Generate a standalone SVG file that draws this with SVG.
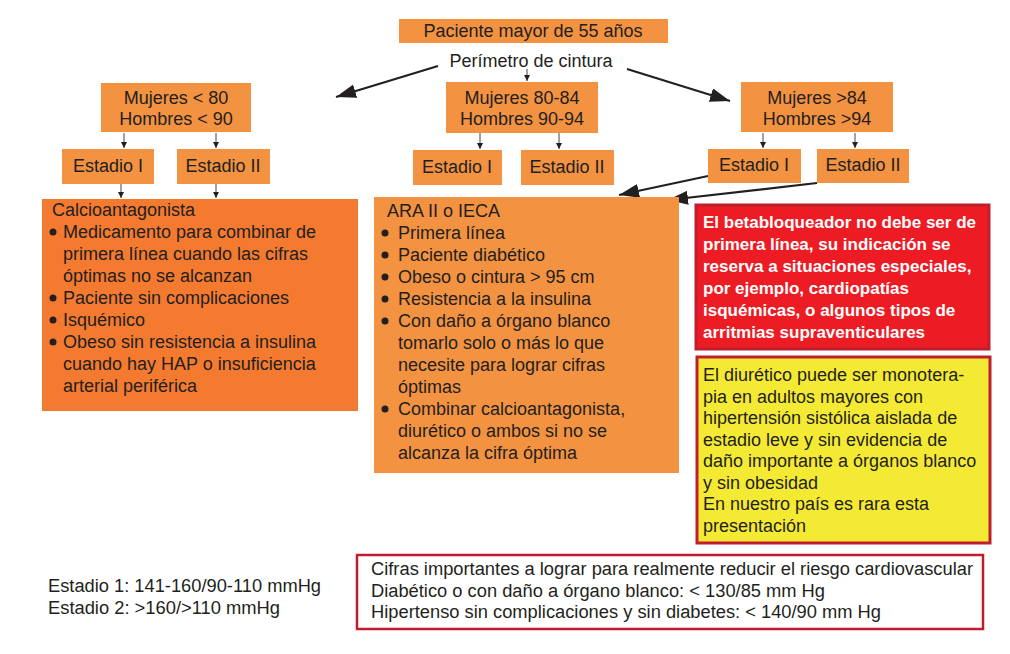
<svg xmlns="http://www.w3.org/2000/svg" width="1010" height="654" viewBox="0 0 1010 654">
<style>
text{font-family:"Liberation Sans",Arial,sans-serif;font-size:18px;fill:#231F20}
.c{text-anchor:middle}
.lo{fill:#F39241}
.do{fill:#F47A30}
.w{fill:#fff;font-weight:bold;font-size:17px}
.thin{stroke:#444;stroke-width:1;fill:none}
.thick{stroke:#231F20;stroke-width:2.2;fill:none}
.b{fill:#231F20}
</style>
<defs>
<marker id="sa" viewBox="0 0 10 10" refX="10" refY="5" markerWidth="6" markerHeight="6" markerUnits="userSpaceOnUse" orient="auto"><path d="M0,0 L10,5 L0,10 z" fill="#231F20"/></marker>
<marker id="ba" viewBox="0 0 10 10" refX="10" refY="5" markerWidth="20" markerHeight="14" markerUnits="userSpaceOnUse" orient="auto" preserveAspectRatio="none"><path d="M0,0 L10,5 L0,10 z" fill="#231F20"/></marker>
</defs>
<rect width="1010" height="654" fill="#fff"/>

<g id="connectors">
<line class="thin" x1="527" y1="69" x2="527" y2="81" marker-end="url(#sa)"/>
<line class="thick" x1="438" y1="66" x2="336" y2="97" marker-end="url(#ba)"/>
<line class="thick" x1="627" y1="69" x2="730" y2="101" marker-end="url(#ba)"/>
<line class="thin" x1="124" y1="133" x2="124" y2="148" marker-end="url(#sa)"/>
<line class="thin" x1="216" y1="133" x2="216" y2="148" marker-end="url(#sa)"/>
<line class="thin" x1="480" y1="133" x2="480" y2="149" marker-end="url(#sa)"/>
<line class="thin" x1="559" y1="133" x2="559" y2="149" marker-end="url(#sa)"/>
<line class="thin" x1="763" y1="133" x2="763" y2="148" marker-end="url(#sa)"/>
<line class="thin" x1="855" y1="133" x2="855" y2="148" marker-end="url(#sa)"/>
<line class="thin" x1="121" y1="184" x2="121" y2="198" marker-end="url(#sa)"/>
<line class="thin" x1="216" y1="184" x2="216" y2="198" marker-end="url(#sa)"/>
<line class="thick" x1="708" y1="176" x2="619" y2="195" marker-end="url(#ba)"/>
<line class="thick" x1="817" y1="183" x2="668" y2="200" marker-end="url(#ba)"/>
</g>

<g id="paciente">
<rect class="lo" x="399" y="19" width="269" height="24"/>
<text class="c" x="533" y="37">Paciente mayor de 55 años</text>
</g>
<g id="perimetro">
<text class="c" x="531" y="67">Perímetro de cintura</text>
</g>

<g id="grupo-bajo">
<rect class="lo" x="101" y="83" width="150" height="49"/>
<text class="c" x="176" y="104">Mujeres &lt; 80</text>
<text class="c" x="176" y="125">Hombres &lt; 90</text>
</g>
<g id="grupo-medio">
<rect class="lo" x="446" y="82" width="152" height="51"/>
<text class="c" x="522" y="104">Mujeres 80-84</text>
<text class="c" x="522" y="125">Hombres 90-94</text>
</g>
<g id="grupo-alto">
<rect class="lo" x="741" y="82" width="152" height="50"/>
<text class="c" x="817" y="104">Mujeres &gt;84</text>
<text class="c" x="817" y="125">Hombres &gt;94</text>
</g>

<g id="estadio-1-bajo"><rect class="lo" x="62" y="149" width="92" height="35"/><text class="c" x="108" y="172">Estadio I</text></g>
<g id="estadio-2-bajo"><rect class="lo" x="177" y="149" width="93" height="35"/><text class="c" x="223" y="172">Estadio II</text></g>
<g id="estadio-1-medio"><rect class="lo" x="413" y="150" width="89" height="35"/><text class="c" x="457" y="173">Estadio I</text></g>
<g id="estadio-2-medio"><rect class="lo" x="521" y="150" width="93" height="35"/><text class="c" x="567" y="173">Estadio II</text></g>
<g id="estadio-1-alto"><rect class="lo" x="708" y="149" width="93" height="34"/><text class="c" x="754" y="171">Estadio I</text></g>
<g id="estadio-2-alto"><rect class="lo" x="817" y="149" width="92" height="34"/><text class="c" x="863" y="171">Estadio II</text></g>

<g id="calcioantagonista">
<rect class="do" x="42" y="199" width="316" height="212"/>
<text x="52" y="216">Calcioantagonista</text>
<circle class="b" cx="53" cy="232" r="3.5"/>
<text x="63" y="238">Medicamento para combinar de</text>
<text x="63" y="260">primera línea cuando las cifras</text>
<text x="63" y="282">óptimas no se alcanzan</text>
<circle class="b" cx="53" cy="298" r="3.5"/>
<text x="63" y="304">Paciente sin complicaciones</text>
<circle class="b" cx="53" cy="320" r="3.5"/>
<text x="63" y="326">Isquémico</text>
<circle class="b" cx="53" cy="342" r="3.5"/>
<text x="63" y="348">Obeso sin resistencia a insulina</text>
<text x="63" y="370">cuando hay HAP o insuficiencia</text>
<text x="63" y="392">arterial periférica</text>
</g>

<g id="ara-ieca">
<rect class="lo" x="374" y="197" width="305" height="276"/>
<text x="387" y="217">ARA II o IECA</text>
<circle class="b" cx="385" cy="233" r="3.5"/>
<text x="398" y="239">Primera línea</text>
<circle class="b" cx="385" cy="255" r="3.5"/>
<text x="398" y="261">Paciente diabético</text>
<circle class="b" cx="385" cy="277" r="3.5"/>
<text x="398" y="283">Obeso o cintura &gt; 95 cm</text>
<circle class="b" cx="385" cy="299" r="3.5"/>
<text x="398" y="305">Resistencia a la insulina</text>
<circle class="b" cx="385" cy="321" r="3.5"/>
<text x="398" y="327">Con daño a órgano blanco</text>
<text x="398" y="349">tomarlo solo o más lo que</text>
<text x="398" y="371">necesite para lograr cifras</text>
<text x="398" y="393">óptimas</text>
<circle class="b" cx="385" cy="409" r="3.5"/>
<text x="398" y="415">Combinar calcioantagonista,</text>
<text x="398" y="437">diurético o ambos si no se</text>
<text x="398" y="459">alcanza la cifra óptima</text>
</g>

<g id="betabloqueador">
<rect x="696" y="205" width="293" height="144" fill="#ED1C24" stroke="#BE1E2D" stroke-width="3"/>
<text class="w" x="703" y="228">El betabloqueador no debe ser de</text>
<text class="w" x="703" y="250">primera línea, su indicación se</text>
<text class="w" x="703" y="272">reserva a situaciones especiales,</text>
<text class="w" x="703" y="294">por ejemplo, cardiopatías</text>
<text class="w" x="703" y="316">isquémicas, o algunos tipos de</text>
<text class="w" x="703" y="338">arritmias supraventiculares</text>
</g>

<g id="diuretico">
<rect x="697" y="357" width="293" height="186" fill="#F5EA33" stroke="#BE1E2D" stroke-width="3"/>
<text x="703" y="381">El diurético puede ser monotera-</text>
<text x="703" y="403">pia en adultos mayores con</text>
<text x="703" y="424">hipertensión sistólica aislada de</text>
<text x="703" y="446">estadio leve y sin evidencia de</text>
<text x="703" y="467">daño importante a órganos blanco</text>
<text x="703" y="489">y sin obesidad</text>
<text x="703" y="510">En nuestro país es rara esta</text>
<text x="703" y="532">presentación</text>
</g>

<g id="estadios-leyenda">
<text x="48" y="592" textLength="273" lengthAdjust="spacingAndGlyphs">Estadio 1: 141-160/90-110 mmHg</text>
<text x="48" y="614" textLength="232" lengthAdjust="spacingAndGlyphs">Estadio 2: &gt;160/&gt;110 mmHg</text>
</g>

<g id="cifras">
<rect x="357" y="555" width="626" height="74" fill="#fff" stroke="#BE1E2D" stroke-width="2.5"/>
<text x="371" y="575" textLength="602" lengthAdjust="spacingAndGlyphs">Cifras importantes a lograr para realmente reducir el riesgo cardiovascular</text>
<text x="371" y="597" textLength="454" lengthAdjust="spacingAndGlyphs">Diabético o con daño a órgano blanco: &lt; 130/85 mm Hg</text>
<text x="371" y="618" textLength="510" lengthAdjust="spacingAndGlyphs">Hipertenso sin complicaciones y sin diabetes: &lt; 140/90 mm Hg</text>
</g>
</svg>
